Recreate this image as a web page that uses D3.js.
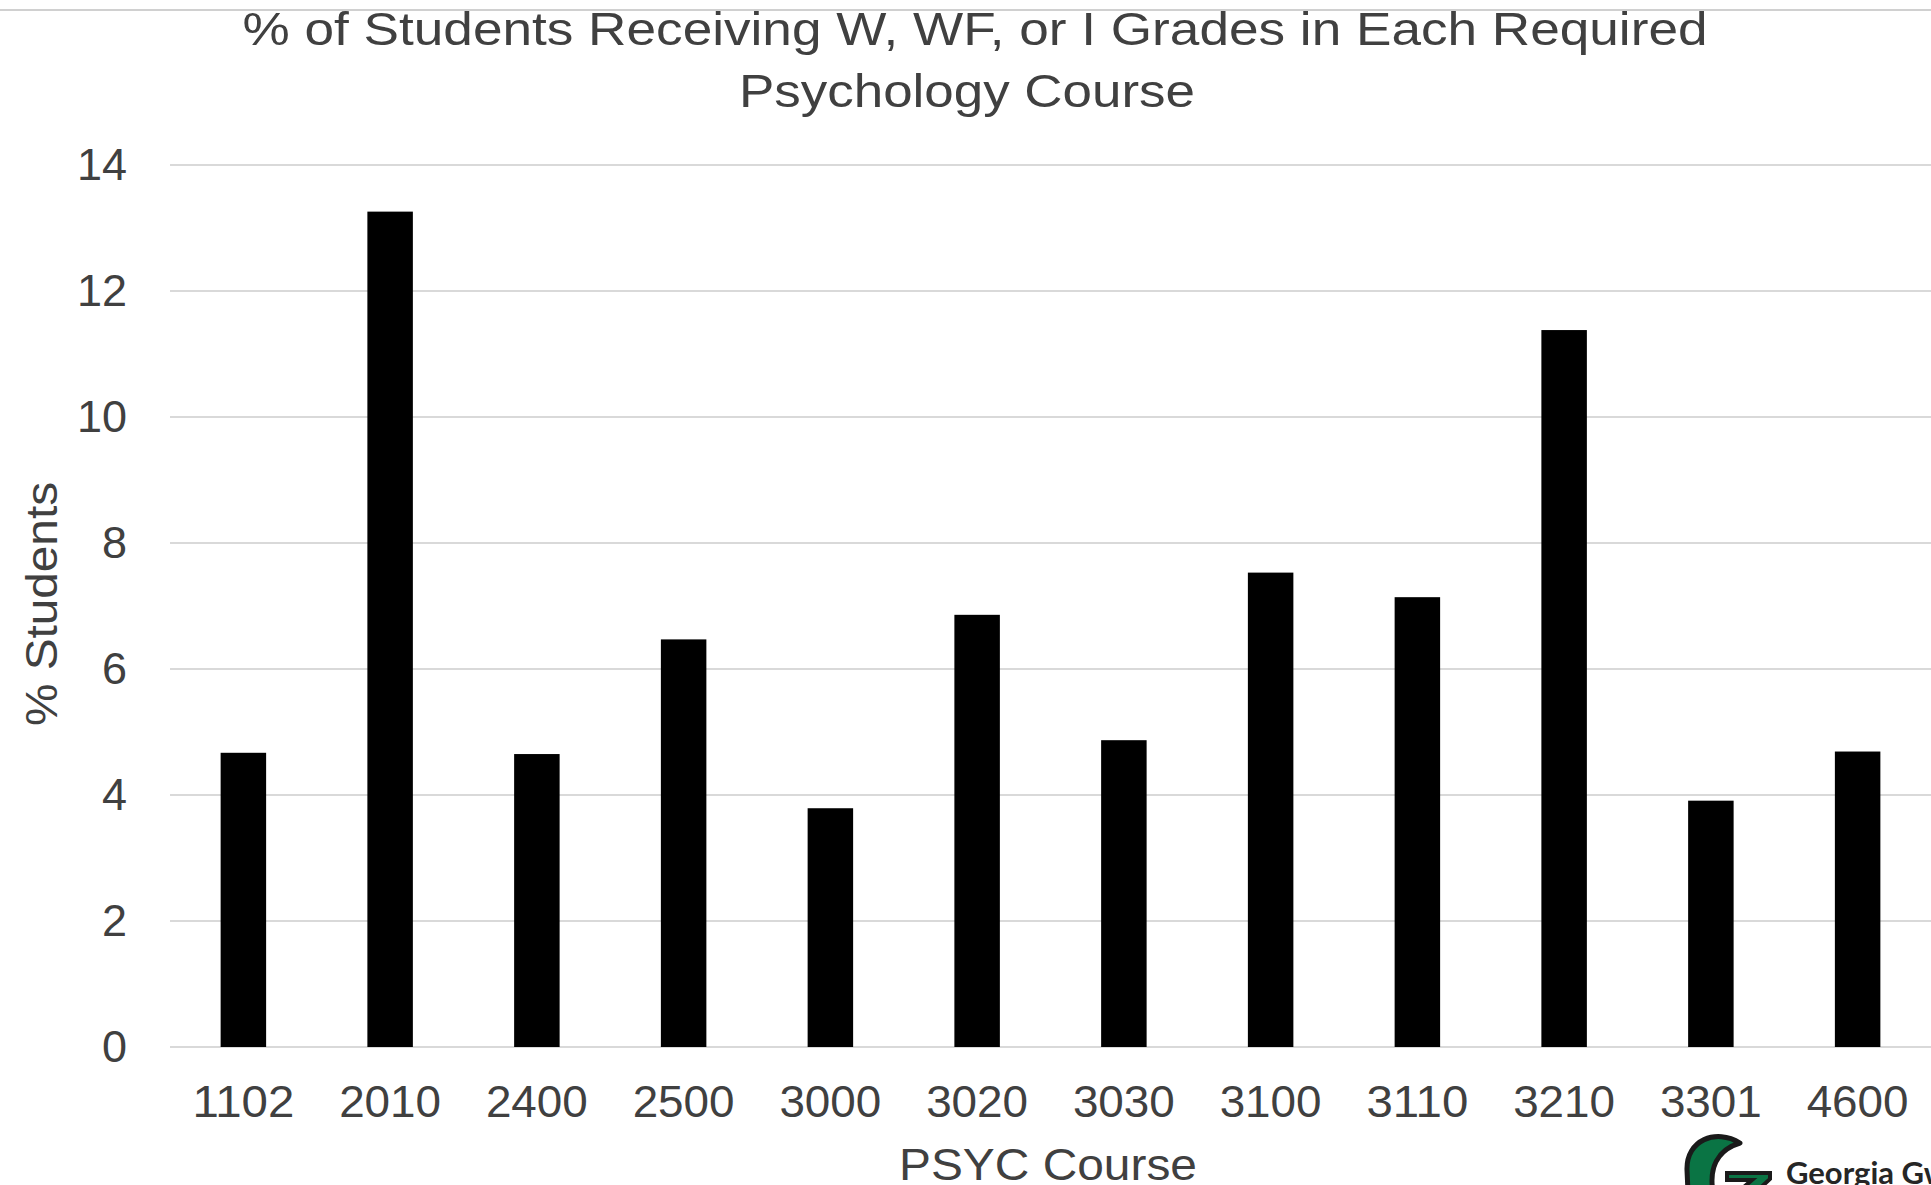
<!DOCTYPE html>
<html>
<head>
<meta charset="utf-8">
<script src="https://cdn.jsdelivr.net/npm/d3@7"></script>
<style>
  html, body { margin: 0; padding: 0; background: #fff; overflow: hidden; }
</style>
</head>
<body>
<div id="chart"></div>
<script>
// ===== DATA =====
const courses = ["1102","2010","2400","2500","3000","3020","3030","3100","3110","3210","3301","4600"];
const pctStudents = [4.67, 13.26, 4.65, 6.47, 3.79, 6.86, 4.87, 7.53, 7.14, 11.38, 3.91, 4.69];
const yTicks = [0, 2, 4, 6, 8, 10, 12, 14];

const FONT = "'Liberation Sans', Arimo, Arial, Helvetica, sans-serif";
const INK = "#404040";

// ===== SIZE =====
const width = 1931;
const height = 1185;
const margin = { top: 165, right: 0, bottom: 138, left: 170 };
const innerW = width - margin.left - margin.right;
const innerH = height - margin.top - margin.bottom;

const svg = d3.select("#chart")
  .append("svg")
  .attr("width", width)
  .attr("height", height);

// thin gray rule at the very top
svg.append("line")
  .attr("x1", 0).attr("x2", width)
  .attr("y1", 10).attr("y2", 10)
  .attr("stroke", "#d0d0d0")
  .attr("stroke-width", 2);

const g = svg.append("g")
  .attr("transform", `translate(${margin.left},${margin.top})`);

const x = d3.scaleBand()
  .domain(courses)
  .range([0, innerW])
  .paddingInner(0.69)
  .paddingOuter(0.345);

const y = d3.scaleLinear()
  .domain([0, 14])
  .range([innerH, 0]);

// gridlines
g.selectAll("line.grid")
  .data(yTicks)
  .join("line")
  .attr("class", "grid")
  .attr("x1", 0)
  .attr("x2", innerW)
  .attr("y1", d => y(d))
  .attr("y2", d => y(d))
  .attr("stroke", "#d9d9d9")
  .attr("stroke-width", 2);

// y axis labels
const yAxis = g.append("g")
  .call(d3.axisLeft(y).tickValues(yTicks).tickSize(0).tickPadding(43));
yAxis.select(".domain").remove();
yAxis.selectAll("text")
  .style("font-family", FONT)
  .style("font-size", "45px")
  .attr("fill", INK);

// bars
g.selectAll("rect.bar")
  .data(courses.map((c, i) => ({ course: c, value: pctStudents[i] })))
  .join("rect")
  .attr("class", "bar")
  .attr("x", d => x(d.course))
  .attr("y", d => y(d.value))
  .attr("width", x.bandwidth())
  .attr("height", d => y(0) - y(d.value))
  .attr("fill", "#000");

// x axis labels (the source text is a little wider than the font)
const xAxis = g.append("g")
  .attr("transform", `translate(0,${innerH})`)
  .call(d3.axisBottom(x).tickSize(0).tickPadding(38));
xAxis.select(".domain").remove();
xAxis.selectAll("text")
  .style("font-family", FONT)
  .style("font-size", "45px")
  .attr("textLength", 102)
  .attr("lengthAdjust", "spacingAndGlyphs")
  .attr("fill", INK);

// title
const title = svg.append("text")
  .attr("text-anchor", "middle")
  .style("font-family", FONT)
  .style("font-size", "47px")
  .attr("fill", INK);
title.append("tspan").attr("x", 975).attr("y", 45)
  .attr("textLength", 1465)
  .attr("lengthAdjust", "spacingAndGlyphs")
  .text("% of Students Receiving W, WF, or I Grades in Each Required");
title.append("tspan").attr("x", 967).attr("y", 107)
  .attr("textLength", 456)
  .attr("lengthAdjust", "spacingAndGlyphs")
  .text("Psychology Course");

// axis titles
svg.append("text")
  .attr("transform", "rotate(-90)")
  .attr("x", -604)
  .attr("y", 57)
  .attr("text-anchor", "middle")
  .style("font-family", FONT)
  .style("font-size", "45px")
  .attr("textLength", 244)
  .attr("lengthAdjust", "spacingAndGlyphs")
  .attr("fill", INK)
  .text("% Students");

svg.append("text")
  .attr("x", 1048)
  .attr("y", 1180)
  .attr("text-anchor", "middle")
  .style("font-family", FONT)
  .style("font-size", "45px")
  .attr("textLength", 298)
  .attr("lengthAdjust", "spacingAndGlyphs")
  .attr("fill", INK)
  .text("PSYC Course");

// logo, bottom right (cut off by the frame)
svg.append("path")
  .attr("d", "M1740,1143 C1716,1128 1686,1140 1687,1170 L1688,1192 L1713,1192 C1709,1168 1717,1150 1740,1143 Z")
  .attr("fill", "#0a7444")
  .attr("stroke", "#1a1a1a")
  .attr("stroke-width", 5)
  .attr("stroke-linejoin", "round");
svg.append("path")
  .attr("d", "M1727,1173 L1770,1173 L1770,1179 L1756,1192 L1738,1192 L1752,1180 L1727,1180 Z")
  .attr("fill", "#0a7444")
  .attr("stroke", "#1a1a1a")
  .attr("stroke-width", 4);
svg.append("text")
  .attr("x", 1786)
  .attr("y", 1184)
  .style("font-family", "Lato, 'Open Sans', sans-serif")
  .style("font-weight", "bold")
  .style("font-size", "31px")
  .attr("fill", "#262626")
  .text("Georgia Gwinnett");
</script>
</body>
</html>
